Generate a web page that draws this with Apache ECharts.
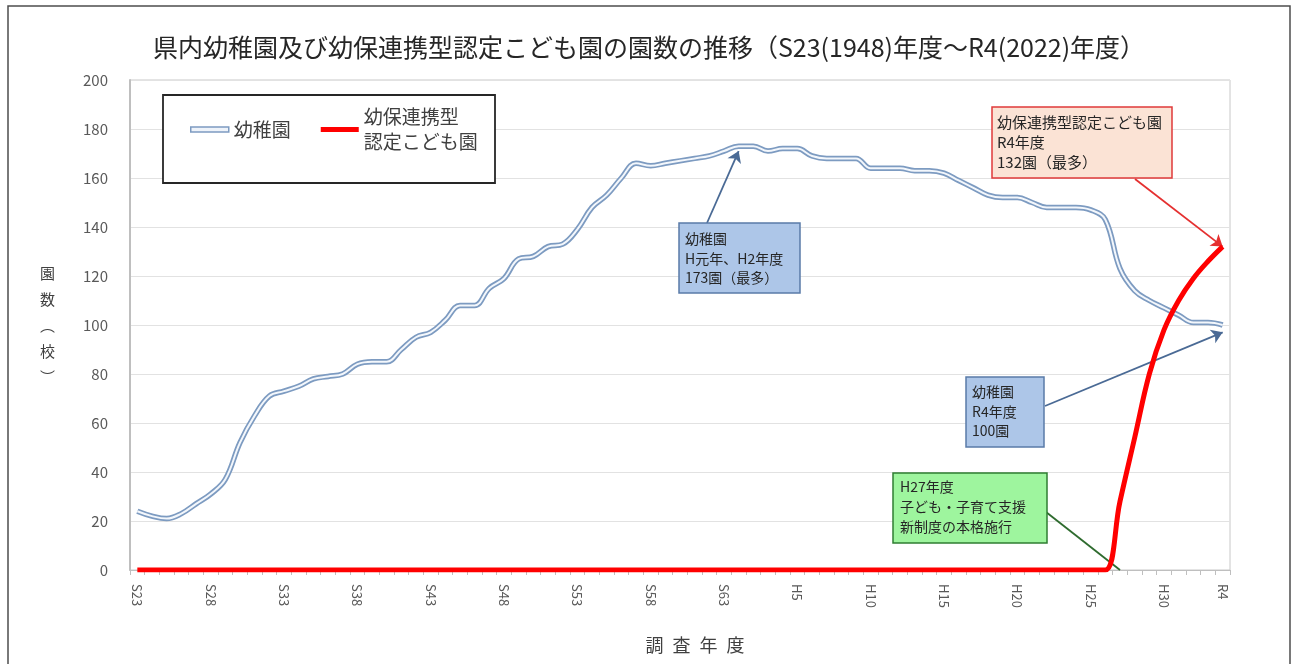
<!DOCTYPE html>
<html><head><meta charset="utf-8">
<script src="https://cdn.jsdelivr.net/npm/echarts@6/dist/echarts.min.js"></script>
<style>html,body{margin:0;padding:0;background:#fff}#c{width:1298px;height:664px}</style>
</head><body><div id="c"></div>
<script>
const categories = [
 'S23','S24','S25','S26','S27','S28','S29','S30','S31','S32','S33','S34','S35','S36','S37','S38','S39','S40','S41','S42',
 'S43','S44','S45','S46','S47','S48','S49','S50','S51','S52','S53','S54','S55','S56','S57','S58','S59','S60','S61','S62','S63',
 'H1','H2','H3','H4','H5','H6','H7','H8','H9','H10','H11','H12','H13','H14','H15','H16','H17','H18','H19','H20',
 'H21','H22','H23','H24','H25','H26','H27','H28','H29','H30','R1','R2','R3','R4'
];
const kindergarten = [
 24,22,21,23,27,31,37,52,63,71,
 73,75,78,79,80,84,85,85,90,95,
 97,102,108,108,115,119,127,128,132,133,
 139,148,153,160,166,165,166,167,168,169,
 171,173,173,171,172,172,169,168,168,168,
 164,164,164,163,163,162,159,156,153,152,
 152,150,148,148,148,147,143,123,114,110,
 107,104,101,101,100
];
const certifiedCenters = [
 0,0,0,0,0,0,0,0,0,0,
 0,0,0,0,0,0,0,0,0,0,
 0,0,0,0,0,0,0,0,0,0,
 0,0,0,0,0,0,0,0,0,0,
 0,0,0,0,0,0,0,0,0,0,
 0,0,0,0,0,0,0,0,0,0,
 0,0,0,0,0,0,0,28,54,80,
 98,110,119,126,132
];
const yMin = 0, yMax = 200, yStep = 20;
const labelEvery = 5;

const F = "'Noto Sans CJK JP','Noto Sans',sans-serif";
const chart = echarts.init(document.getElementById('c'), null, {renderer:'canvas'});
const lastIdx = categories.length - 1;

function boxText(x, y, w, h, fill, stroke, lines, fs, lh, tx, ty){
  return [
    {type:'rect', z:50, shape:{x:x,y:y,width:w,height:h}, style:{fill:fill, stroke:stroke, lineWidth:1.5}},
    {type:'text', z:51, x:tx, y:ty, style:{text:lines.join('\n'), font:fs+'px '+F, lineHeight:lh, fill:'#262626'}}
  ];
}

const option = {
  animation:false,
  backgroundColor:'#ffffff',
  textStyle:{fontFamily:F},
  title:{
    text:'県内幼稚園及び幼保連携型認定こども園の園数の推移（S23(1948)年度～R4(2022)年度）',
    left:'center', top:30,
    textStyle:{fontSize:25, fontWeight:'normal', color:'#262626', fontFamily:F}
  },
  grid:{left:130, right:68, top:80, bottom:94, show:true, borderColor:'#c8c8c8', borderWidth:1, backgroundColor:'transparent'},
  legend:{
    left:190, top:92, padding:0, itemWidth:38, itemHeight:5, itemGap:30, z:60,
    selectedMode:false,
    textStyle:{fontSize:19, color:'#404040', lineHeight:25, fontFamily:F},
    data:[
      {name:'幼稚園', icon:'rect', itemStyle:{color:'#eef3fa', borderColor:'#7d9bc1', borderWidth:1.5}},
      {name:'幼保連携型\n認定こども園', icon:'rect', itemStyle:{color:'#ff0000', borderWidth:0}, textStyle:{padding:[25,0,0,0]}}
    ]
  },
  xAxis:{
    type:'category', data:categories, boundaryGap:true,
    name:'調\u2002査\u2002年\u2002度', nameLocation:'middle', nameGap:66,
    nameTextStyle:{fontSize:18, color:'#404040', padding:[0,0,0,30], fontFamily:F},
    axisLine:{lineStyle:{color:'#bfbfbf', width:1}},
    axisTick:{show:true, interval:0, length:5, lineStyle:{color:'#bfbfbf'}},
    axisLabel:{
      interval:function(i){ return i % labelEvery === 0 || i === lastIdx; },
      rotate:-90, fontSize:13, color:'#595959', margin:14, fontFamily:F
    },
    splitLine:{show:false}
  },
  yAxis:{
    type:'value', min:yMin, max:yMax, interval:yStep,
    axisLine:{show:true, lineStyle:{color:'#bfbfbf', width:2}},
    axisTick:{show:false},
    axisLabel:{fontSize:15, color:'#595959', margin:22, fontFamily:F},
    splitLine:{lineStyle:{color:'#e2e2e2', width:1}}
  },
  series:[
    {
      name:'幼稚園', type:'line', data:kindergarten, smooth:0.4, symbol:'none', z:3,
      lineStyle:{color:'#7d9bc1', width:5.5}, itemStyle:{color:'#7d9bc1'},
      markLine:{
        silent:true, animation:false, symbol:['none','arrow'], symbolSize:11,
        label:{show:false}, lineStyle:{type:'solid', color:'#4a6a95', width:1.8},
        data:[
          [{x:707, y:223}, {coord:[41,171]}],
          [{x:1045, y:406}, {coord:[lastIdx,97]}]
        ]
      }
    },
    {
      name:'幼稚園(inner)', type:'line', data:kindergarten, smooth:0.4, symbol:'none', z:4,
      lineStyle:{color:'#f3f7fc', width:2}, itemStyle:{color:'#f3f7fc'}
    },
    {
      name:'幼保連携型\n認定こども園', type:'line', data:certifiedCenters, smooth:0.4, symbol:'none', z:5,
      lineStyle:{color:'#ff0000', width:5}, itemStyle:{color:'#ff0000'},
      markLine:{
        silent:true, animation:false, symbol:['none','arrow'], symbolSize:11,
        label:{show:false}, lineStyle:{type:'solid', width:1.8},
        data:[
          [{x:1135, y:179, lineStyle:{color:'#e53030'}, itemStyle:{color:'#e53030'}}, {coord:[lastIdx,132]}],
          [{x:1046, y:512, lineStyle:{color:'#2e6b2e'}, symbol:'none'}, {coord:[67,0], symbol:'none'}]
        ]
      }
    }
  ],
  graphic:{elements:[
    {type:'rect', z:0, silent:true, shape:{x:8,y:6,width:1282,height:700}, style:{fill:'none', stroke:'#4d4d4d', lineWidth:1.5}},
    {type:'rect', z:1, shape:{x:163,y:95,width:332,height:88}, style:{fill:'#ffffff', stroke:'#262626', lineWidth:1.8}},
    {type:'text', z:5, x:40, y:260, style:{text:'園\n数\n︵\n校\n︶', font:'15px '+F, lineHeight:26, fill:'#404040'}},
    ...boxText(679,223,121,70,'#adc6e8','#5a7ba8',['幼稚園','H元年、H2年度','173園（最多）'],14,19.5,685,229),
    ...boxText(992,107,180,71,'#fbe3d5','#e03a3a',['幼保連携型認定こども園','R4年度','132園（最多）'],15,20,997,112),
    ...boxText(966,377,78,70,'#adc6e8','#5a7ba8',['幼稚園','R4年度','100園'],14,19.5,972,382),
    ...boxText(893,473,154,70,'#9ef59e','#2f7d32',['H27年度','子ども・子育て支援','新制度の本格施行'],14,20,900,477)
  ]}
};
chart.setOption(option);
</script></body></html>
